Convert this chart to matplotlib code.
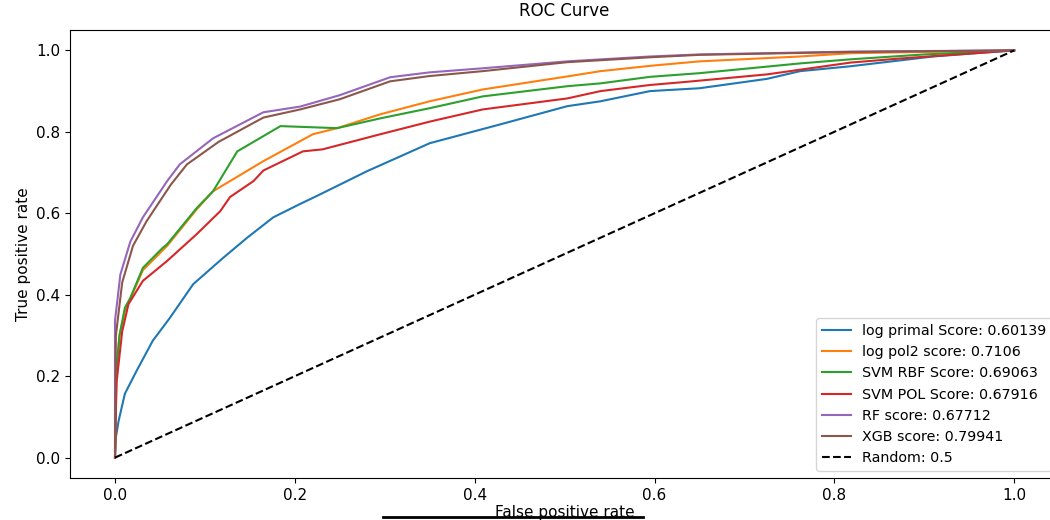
import numpy as np
import matplotlib
matplotlib.use("Agg")
import matplotlib.pyplot as plt
from matplotlib.lines import Line2D

# ROC points (fpr, tpr)
log_primal_fpr = [0, 0.001, 0.004, 0.011, 0.024, 0.042, 0.061, 0.087, 0.12, 0.147, 0.176, 0.206, 0.224,
                  0.258, 0.28, 0.35, 0.428, 0.503, 0.54, 0.595, 0.65, 0.725, 0.762, 0.818, 0.91, 1]
log_primal_tpr = [0, 0.05, 0.09, 0.157, 0.213, 0.287, 0.343, 0.426, 0.49, 0.54, 0.59, 0.623, 0.642,
                  0.679, 0.703, 0.772, 0.818, 0.863, 0.875, 0.9, 0.907, 0.93, 0.949, 0.961, 0.985, 1]

log_pol2_fpr = [0, 0.001, 0.005, 0.011, 0.031, 0.058, 0.091, 0.109, 0.165, 0.22, 0.247, 0.295, 0.35,
                0.409, 0.503, 0.54, 0.595, 0.65, 0.762, 0.818, 1]
log_pol2_tpr = [0, 0.2, 0.3, 0.36, 0.46, 0.52, 0.61, 0.654, 0.728, 0.794, 0.809, 0.843, 0.875,
                0.904, 0.936, 0.949, 0.962, 0.973, 0.985, 0.993, 1]

svm_rbf_fpr = [0, 0.001, 0.005, 0.011, 0.017, 0.031, 0.053, 0.058, 0.091, 0.109, 0.136, 0.184, 0.247,
               0.295, 0.35, 0.409, 0.503, 0.54, 0.595, 0.65, 0.762, 0.818, 0.9, 1]
svm_rbf_tpr = [0, 0.2, 0.3, 0.368, 0.392, 0.466, 0.515, 0.524, 0.613, 0.654, 0.752, 0.814, 0.809,
               0.833, 0.858, 0.887, 0.912, 0.919, 0.935, 0.944, 0.968, 0.978, 0.99, 1]

svm_pol_fpr = [0, 0.001, 0.002, 0.008, 0.015, 0.031, 0.058, 0.091, 0.117, 0.128, 0.154, 0.165, 0.209,
               0.231, 0.295, 0.35, 0.409, 0.503, 0.54, 0.595, 0.632, 0.725, 0.818, 0.873, 1]
svm_pol_tpr = [0, 0.12, 0.19, 0.31, 0.377, 0.434, 0.483, 0.549, 0.605, 0.64, 0.679, 0.705, 0.752,
               0.757, 0.794, 0.825, 0.855, 0.882, 0.9, 0.915, 0.922, 0.941, 0.97, 0.98, 1]

rf_fpr = [0, 0, 0.006, 0.017, 0.031, 0.058, 0.072, 0.109, 0.165, 0.206, 0.25, 0.306, 0.35, 0.409,
          0.503, 0.595, 0.65, 0.818, 1]
rf_tpr = [0, 0.336, 0.45, 0.53, 0.59, 0.679, 0.72, 0.784, 0.848, 0.862, 0.89, 0.934, 0.946, 0.956,
          0.973, 0.985, 0.99, 0.997, 1]

xgb_fpr = [0, 0.001, 0.008, 0.02, 0.035, 0.062, 0.08, 0.115, 0.165, 0.206, 0.25, 0.306, 0.35, 0.409,
           0.503, 0.595, 0.65, 0.818, 1]
xgb_tpr = [0, 0.3, 0.43, 0.52, 0.58, 0.67, 0.72, 0.775, 0.835, 0.855, 0.88, 0.924, 0.937, 0.949,
           0.971, 0.983, 0.989, 0.996, 1]

labels = ['log primal Score: 0.60139', 'log pol2 score: 0.7106', 'SVM RBF Score: 0.69063',
          'SVM POL Score: 0.67916', 'RF score: 0.67712', 'XGB score: 0.79941', 'Random: 0.5']

fig = plt.figure(figsize=(10.5, 5.2), dpi=100)
ax = fig.add_axes([0.0667, 0.0808, 0.942, 0.8615])

ax.plot(log_primal_fpr, log_primal_tpr, label=labels[0])
ax.plot(log_pol2_fpr, log_pol2_tpr, label=labels[1])
ax.plot(svm_rbf_fpr, svm_rbf_tpr, label=labels[2])
ax.plot(svm_pol_fpr, svm_pol_tpr, label=labels[3])
ax.plot(rf_fpr, rf_tpr, label=labels[4])
ax.plot(xgb_fpr, xgb_tpr, label=labels[5])
ax.plot([0, 1], [0, 1], 'k--', label=labels[6])

ax.set_title('ROC Curve', fontsize=12, pad=10)
ax.set_xlabel('False positive rate', fontsize=11, labelpad=2)
ax.set_ylabel('True positive rate', fontsize=11)
ax.tick_params(labelsize=11)
ax.legend(loc='lower right', fontsize=10.3)

# stray underline below the x label in the reference
fig.add_artist(Line2D([383 / 1050, 643 / 1050], [3 / 520, 3 / 520], color='black', lw=2))

plt.savefig('out.png')
